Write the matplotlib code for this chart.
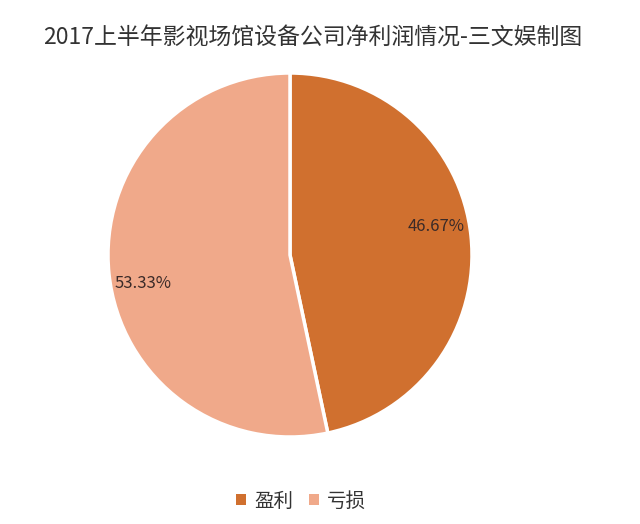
import matplotlib
matplotlib.use("Agg")
import matplotlib.pyplot as plt
from matplotlib.patches import Patch
import numpy as np

plt.rcParams['font.family'] = ['Noto Sans CJK SC', 'DejaVu Sans']

title = "2017上半年影视场馆设备公司净利润情况-三文娱制图"
labels = ["盈利", "亏损"]
values = [46.67, 53.33]
colors = ["#D0702F", "#F0A98A"]

fig = plt.figure(figsize=(6.4, 5.24), dpi=100)
fig.patch.set_facecolor("white")
ax = fig.add_axes([108/640, 87/524, 364/640, 364/524])
wedges, texts, autotexts = ax.pie(
    values, colors=colors, startangle=90, counterclock=False,
    autopct=lambda p: f"{p:.2f}%", pctdistance=0.82,
    wedgeprops=dict(edgecolor="white", linewidth=2.5),
    textprops=dict(fontsize=12, color="#3a2a28"))
for w, t in zip(wedges, autotexts):
    ang = np.deg2rad((w.theta1 + w.theta2) / 2 + 5)
    t.set_position((0.82 * np.cos(ang), 0.82 * np.sin(ang)))
ax.set_xlim(-1, 1)
ax.set_ylim(-1, 1)
ax.set_aspect("equal")

fig.text(0.488, 1 - 38/524, title, ha="center", va="center", fontsize=16.5, color="#333333")

handles = [Patch(facecolor=c, edgecolor="none") for c in colors]
fig.legend(handles, labels, loc="center", bbox_to_anchor=(0.47, 1 - 501/524), ncol=2,
           frameon=False, fontsize=14, handlelength=0.55, handleheight=0.55,
           handletextpad=0.4, columnspacing=0.8, labelcolor="#333333")

fig.savefig("out.png", dpi=100)
